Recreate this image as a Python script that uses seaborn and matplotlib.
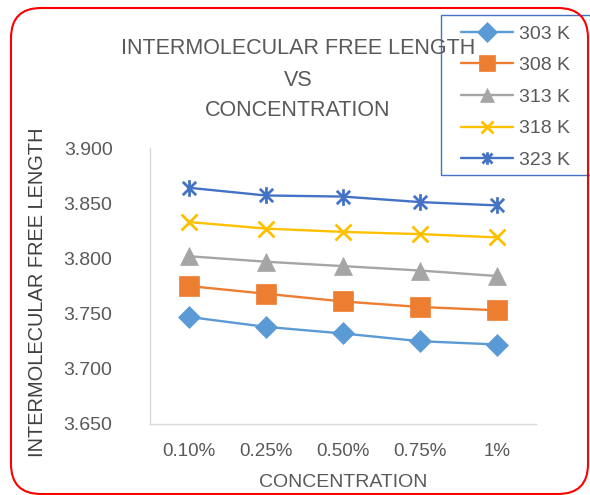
import matplotlib
matplotlib.use("Agg")
import matplotlib.pyplot as plt
import seaborn as sns
import numpy as np
from matplotlib.path import Path
from matplotlib.patches import FancyBboxPatch, Rectangle

concentrations = ["0.10%", "0.25%", "0.50%", "0.75%", "1%"]
temps = ["303 K", "308 K", "313 K", "318 K", "323 K"]
v303 = [3.747, 3.738, 3.732, 3.725, 3.722]
v308 = [3.775, 3.768, 3.761, 3.756, 3.753]
v313 = [3.802, 3.797, 3.793, 3.789, 3.784]
v318 = [3.833, 3.827, 3.824, 3.822, 3.819]
v323 = [3.864, 3.857, 3.856, 3.851, 3.848]
series = [v303, v308, v313, v318, v323]
yticks = [3.650, 3.700, 3.750, 3.800, 3.850, 3.900]

colors = ["#5B9BD5", "#ED7D31", "#A5A5A5", "#FFC000", "#4472C4"]
star = Path([(-1, -1), (1, 1), (-1, 1), (1, -1), (0, -1.25), (0, 1.25)],
            [Path.MOVETO, Path.LINETO, Path.MOVETO, Path.LINETO, Path.MOVETO, Path.LINETO])
markers = ["D", "s", "^", "x", star]
msizes = [11.5, 14, 13.5, 12, 12]
leg_msizes = [10, 11, 10, 9, 9]

sns.set_theme(style="white")
plt.rcParams["font.family"] = ["Liberation Sans", "DejaVu Sans"]
TXT = "#595959"

fig = plt.figure(figsize=(5.9, 4.95), dpi=100)
ax = fig.add_axes([150/590, 1-424/495, 386/590, 276/495])

for t, vals, c, m, ms in zip(temps, series, colors, markers, msizes):
    sns.lineplot(x=concentrations, y=vals, ax=ax, color=c, marker=m,
                 markersize=ms, markeredgecolor=c, markerfacecolor=c,
                 markeredgewidth=2 if m in ("x", star) else 0.5,
                 linewidth=1.7, label=t, sort=False)

ax.set_xlim(-0.5, 4.5)
ax.set_ylim(3.65, 3.90)
ax.set_yticks(yticks)
ax.set_yticklabels([f"{v:.3f}" for v in yticks])
ax.tick_params(axis="y", length=0, pad=27, labelsize=14, labelcolor=TXT)
ax.tick_params(axis="x", length=0, pad=14, labelsize=13.5, labelcolor=TXT)
for s in ["top", "right"]:
    ax.spines[s].set_visible(False)
for s in ["left", "bottom"]:
    ax.spines[s].set_color("#D9D9D9")
    ax.spines[s].set_linewidth(1)
ax.grid(False)

ax.set_xlabel("CONCENTRATION", fontsize=14, color=TXT)
ax.xaxis.set_label_coords(0.5, -0.182)
ax.set_ylabel("INTERMOLECULAR FREE LENGTH", fontsize=14.4, color="#404040")
ax.yaxis.set_label_coords(-0.267, 0.478)

fig.text(298/590, 1-48/495, "INTERMOLECULAR FREE LENGTH", ha="center", va="center",
         fontsize=15.5, color=TXT)
fig.text(298/590, 1-80/495, "VS", ha="center", va="center", fontsize=15.5, color=TXT)
fig.text(298/590, 1-111/495, "CONCENTRATION", ha="center", va="center", fontsize=15.5, color=TXT)

leg = ax.legend(loc="upper left", bbox_to_anchor=(461/590, 1-25/495),
                bbox_transform=fig.transFigure, frameon=False, fontsize=14,
                handlelength=2.68, labelspacing=0.72, borderaxespad=0,
                handletextpad=0.3, borderpad=0)
for tx in leg.get_texts():
    tx.set_color(TXT)
for h, ms in zip(leg.legend_handles, leg_msizes):
    h.set_markersize(ms)

fig.patches.append(Rectangle((441, 320), 170, 160, transform=None, fill=False,
                             edgecolor="#4472C4", linewidth=1))

border = FancyBboxPatch((11, 1), 577, 486, boxstyle="round,pad=0,rounding_size=30",
                        transform=None, fill=False, edgecolor="#FF0000", linewidth=1.5)
fig.patches.append(border)

fig.savefig("out.png", dpi=100)
